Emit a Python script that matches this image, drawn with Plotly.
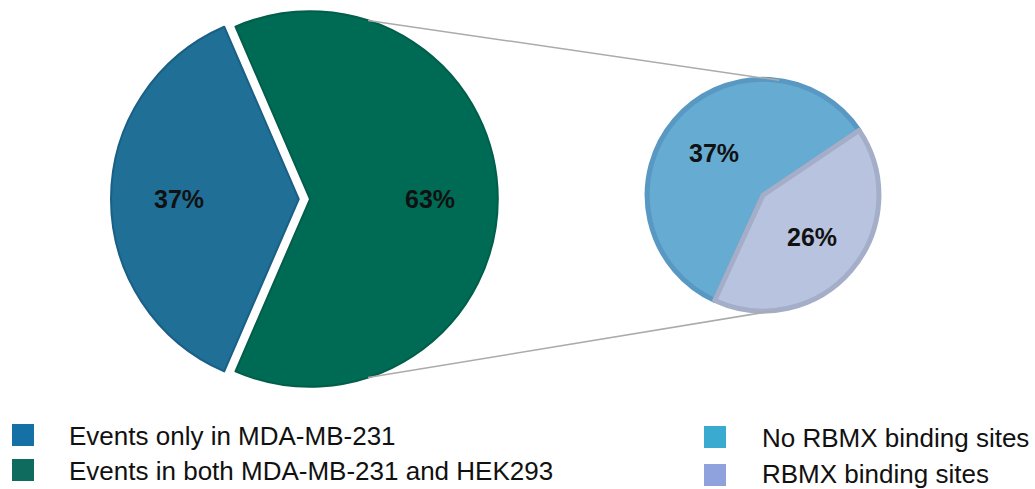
import math
import plotly.graph_objects as go

W, H = 1035, 489

# ---- data ----
main_labels = ["Events only in MDA-MB-231", "Events in both MDA-MB-231 and HEK293"]
main_values = [37, 63]
sub_labels = ["No RBMX binding sites", "RBMX binding sites"]
sub_values = [37, 26]

# ---- styles ----
main_colors = ["#1f6f97", "#006b55"]
main_line_colors = ["#1a5f85", "#005e4a"]
main_legend_colors = ["#1570a5", "#106b5f"]
sub_colors = ["#65abd2", "#b8c4df"]
sub_line_colors = ["#5898c2", "#a4aec9"]
sub_legend_colors = ["#3aaad0", "#8fa2dd"]

FONT = "Liberation Sans, Arial, sans-serif"

main_dom = dict(x=[0.1063, 0.4928], y=[0.186, 1.0])
sub_dom = dict(x=[0.6251, 0.8493], y=[0.364, 0.838])
main_pull = [0.06, 0.0]

# slices run clockwise; start angles are math angles (deg, ccw from 3 o'clock)
main_frac = main_values[0] / sum(main_values)
main_start = 180 + main_frac * 360 / 2      # blue slice centred at 9 o'clock
main_rot = 90 - main_start
sub_start = 245.4
sub_rot = 90 - sub_start


def geom(dom, pull):
    w = W * (dom["x"][1] - dom["x"][0])
    h = H * (dom["y"][1] - dom["y"][0])
    r = min(w, h) / 2 / (1 + max(pull))
    cx = W * (dom["x"][0] + dom["x"][1]) / 2
    cy = H * (1 - dom["y"][0]) - h / 2
    return cx, cy, r


def px(x, y):
    return x / W, 1 - y / H


fig = go.Figure()
fig.add_trace(go.Pie(
    labels=main_labels, values=main_values, sort=False,
    direction="clockwise", rotation=main_rot, pull=main_pull,
    marker=dict(colors=main_colors, line=dict(color=main_line_colors, width=2)),
    textinfo="none", hoverinfo="label+percent", domain=main_dom, showlegend=False,
))
fig.add_trace(go.Pie(
    labels=sub_labels, values=sub_values, sort=False,
    direction="clockwise", rotation=sub_rot,
    marker=dict(colors=sub_colors, line=dict(color=sub_line_colors, width=5)),
    textinfo="none", hoverinfo="label+value", domain=sub_dom, showlegend=False,
))

annotations = []
shapes = []


def add_labels(values, start, dom, pull, rfrac):
    cx, cy, r = geom(dom, pull)
    tot = sum(values)
    a = start
    for v, p in zip(values, pull):
        span = v / tot * 360
        mid = math.radians(a - span / 2)
        ox = cx + p * r * math.cos(mid)
        oy = cy - p * r * math.sin(mid)
        lx = ox + rfrac * r * math.cos(mid)
        ly = oy - rfrac * r * math.sin(mid)
        x, y = px(lx, ly)
        annotations.append(dict(x=x, y=y, xref="paper", yref="paper", showarrow=False,
                                text=f"<b>{v}%</b>", font=dict(family=FONT, size=25, color="#111111"),
                                xanchor="center", yanchor="middle"))
        a -= span


add_labels(main_values, main_start, main_dom, main_pull, 0.64)
add_labels(sub_values, sub_start, sub_dom, [0, 0], 0.56)

# connector lines
mcx, mcy, mr = geom(main_dom, main_pull)
scx, scy, sr = geom(sub_dom, [0])
for am, asub in [(72, 82), (-72, -82)]:
    x0, y0 = px(mcx + mr * math.cos(math.radians(am)), mcy - mr * math.sin(math.radians(am)))
    x1, y1 = px(scx + sr * math.cos(math.radians(asub)), scy - sr * math.sin(math.radians(asub)))
    shapes.append(dict(type="line", xref="paper", yref="paper", x0=x0, y0=y0, x1=x1, y1=y1,
                       line=dict(color="#ababab", width=1.5)))


def add_legend(labels, colors, sq_x, sq_tops, text_x, text_centers):
    for lab, col, top, tc in zip(labels, colors, sq_tops, text_centers):
        x0, y0 = px(sq_x, top)
        x1, y1 = px(sq_x + 22, top + 22)
        shapes.append(dict(type="rect", xref="paper", yref="paper", x0=x0, y0=y1, x1=x1, y1=y0,
                           fillcolor=col, line=dict(width=0)))
        tx, ty = px(text_x, tc)
        annotations.append(dict(x=tx, y=ty, xref="paper", yref="paper", showarrow=False,
                                text=lab, font=dict(family=FONT, size=26, color="#111111"),
                                xanchor="left", yanchor="middle"))


add_legend(main_labels, main_legend_colors, 12, [424, 459], 67, [436, 471])
add_legend(sub_labels, sub_legend_colors, 704, [426, 464], 760, [438, 474])

fig.update_layout(
    width=W, height=H, autosize=False,
    margin=dict(l=0, r=0, t=0, b=0),
    paper_bgcolor="white", plot_bgcolor="white",
    showlegend=False,
    annotations=annotations, shapes=shapes,
)

fig.write_html("out.html")
